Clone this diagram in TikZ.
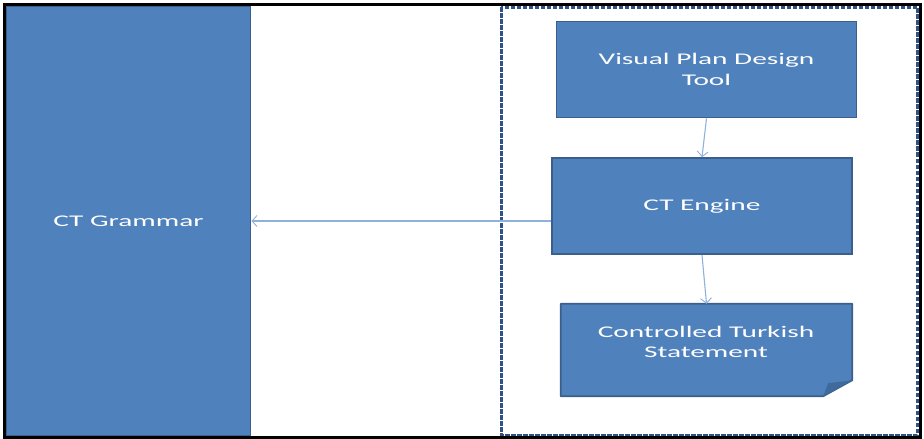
\documentclass[tikz,border=0pt]{standalone}
\usepackage{fontspec}
\setmainfont{Carlito}[FakeStretch=1.8]
\usetikzlibrary{arrows.meta}
\definecolor{boxfill}{HTML}{4F81BD}
\definecolor{boxline}{HTML}{3A5F8C}
\definecolor{dashline}{HTML}{2E5286}
\definecolor{flowline}{HTML}{8FB1DC}
\definecolor{foldfill}{HTML}{3E6A9C}
\tikzset{
  bluebox/.style={rectangle, fill=boxfill, draw=boxline, line width=1.8pt,
    text=white, font=\fontsize{16.3}{21}\selectfont, align=center, inner sep=0pt},
  flow/.style={draw=flowline, line width=1.1pt, -{Straight Barb[length=5pt,width=11pt,line width=0.9pt]}},
  frame/.style={draw=black, line width=3pt},
  dashbox/.style={draw=dashline, line width=3pt, dash pattern=on 4.5pt off 1.5pt}
}
\begin{document}
\begin{tikzpicture}[x=1pt,y=-1pt]
\useasboundingbox (0,0) rectangle (924,439);
% left grammar column
\node[bluebox, minimum width=244pt, minimum height=430pt] (gram) at (128.5,221) {CT Grammar};
% dashed region
\draw[dashbox] (501,7) rectangle (917,435);
% boxes
\node[bluebox, minimum width=300pt, minimum height=96pt] (vpd) at (706.5,69.5) {Visual Plan Design\\Tool};
\node[bluebox, minimum width=300pt, minimum height=96pt] (eng) at (702,206) {CT Engine};
% document shape
\node[rectangle, minimum width=291pt, minimum height=92pt, inner sep=0pt] (doc) at (706.5,350) {};
\filldraw[fill=boxfill, draw=boxline, line width=1.8pt, line join=round]
  (doc.north west) -- (doc.north east) -- ([yshift=16pt]doc.south east)
  -- ([xshift=-29pt]doc.south east) -- (doc.south west) -- cycle;
\fill[foldfill] ([yshift=16pt]doc.south east) -- ([xshift=-24pt,yshift=13pt]doc.south east)
  -- ([xshift=-29pt]doc.south east) -- cycle;
\node[text=white, font=\fontsize{16.3}{20}\selectfont, align=center] (doctext) at (706,342) {Controlled Turkish\\Statement};
% connectors
\draw[flow] (vpd.south) -- (eng.north);
\draw[flow] ([yshift=-15pt]eng.west) -- ([yshift=-15pt]eng.west -| gram.east);
\draw[flow] (eng.south) -- (doc.north);
% outer frame
\draw[frame] (4,4.5) rectangle (920.5,437);
\end{tikzpicture}
\end{document}
